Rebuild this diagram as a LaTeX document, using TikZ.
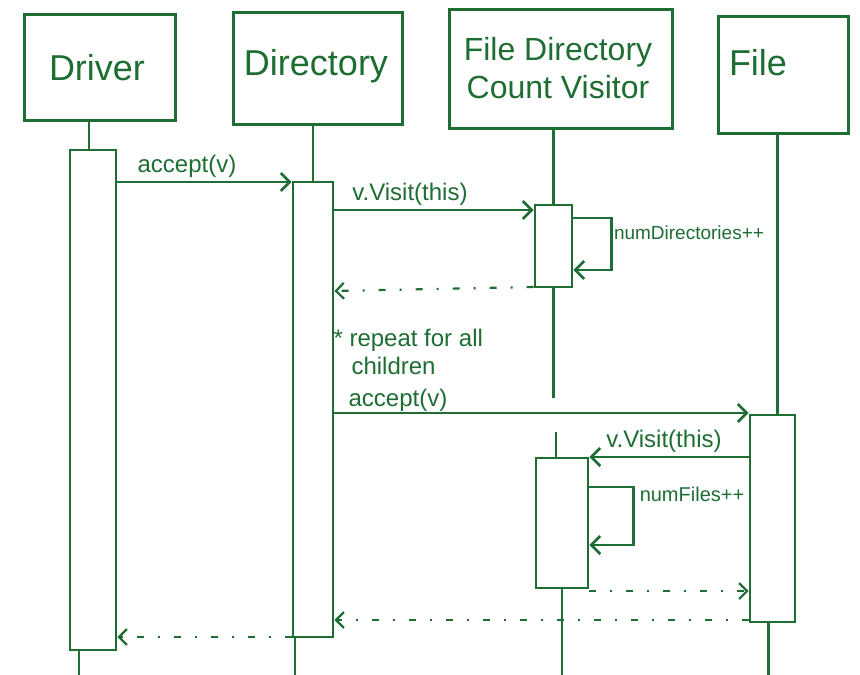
\documentclass[tikz,border=0pt]{standalone}
\usepackage{fontspec}
\setmainfont{Liberation Sans}
\usetikzlibrary{arrows.meta}
\definecolor{ink}{RGB}{30,110,52}
\begin{document}
\begin{tikzpicture}[x=1pt,y=-1pt,
  every node/.style={text=ink},
  head/.style={draw=ink, line width=3pt, inner sep=0pt},
  title/.style={font=\fontsize{36}{40}\selectfont},
  act/.style={draw=ink, line width=2.8pt, fill=white, inner sep=0pt},
  life/.style={draw=ink, line width=2.6pt},
  msg/.style={draw=ink, line width=2.4pt, -{Straight Barb[length=9pt,width=18pt,line width=2.6pt]}},
  ret/.style={draw=ink, line width=2.2pt, dash pattern=on 7pt off 14pt on 2pt off 14pt, -{Straight Barb[length=8pt,width=16pt,line width=2.2pt]}},
  lbl/.style={font=\fontsize{24}{28}\selectfont},
  slbl/.style={font=\fontsize{19}{22}\selectfont}]
\useasboundingbox (0,0) rectangle (860,675);
\fill[white] (0,0) rectangle (860,675);

% headers
\node[head, minimum width=151pt, minimum height=106pt] (drv) at (99.5,67) {};
\node[title] (drvt) at (97,68) {Driver};
\node[head, minimum width=169pt, minimum height=112pt] (dir) at (317.5,68) {};
\node[title] (dirt) at (316,66) {Directory};
\node[head, minimum width=223pt, minimum height=119pt] (vis) at (560.5,68.5) {};
\node[title, font=\fontsize{32}{36}\selectfont, align=center] (vist) at (558,68) {File Directory\\[2pt]Count Visitor};
\node[head, minimum width=130pt, minimum height=117pt] (file) at (783,74.5) {};
\node[title] (filet) at (758,63) {File};

% y levels
\coordinate (y182) at (0,182);
\coordinate (y210) at (0,210);
\coordinate (y218) at (0,218);
\coordinate (y270) at (0,270);
\coordinate (y287) at (0,287);
\coordinate (y291) at (0,291);
\coordinate (y398) at (0,398);
\coordinate (y413) at (0,413);
\coordinate (y432) at (0,432);
\coordinate (y457) at (0,457);
\coordinate (y487) at (0,487);
\coordinate (y545) at (0,545);
\coordinate (y591) at (0,591);
\coordinate (y620) at (0,620);
\coordinate (y637) at (0,637);
\coordinate (ybot) at (0,675);

% activations (nodes)
\node[act, minimum width=46pt, minimum height=500pt] (drvA) at (93,400) {};
\node[act, minimum width=40pt, minimum height=455pt] (dirA) at (313,409.5) {};
\node[act, minimum width=37pt, minimum height=82pt] (visA1) at (553.5,246) {};
\node[act, minimum width=52pt, minimum height=130pt] (visA2) at (562,523) {};
\node[act, minimum width=45pt, minimum height=207pt] (fileA) at (772.5,518.5) {};

% lifelines
\draw[life] ([xshift=-4pt]drvA.north |- drv.south) -- ([xshift=-4pt]drvA.north);
\draw[life] ([xshift=-14pt]drvA.south) -- ([xshift=-14pt]drvA.south |- ybot);
\draw[life] (dir.south -| dirA.north) -- (dirA.north);
\draw[life] ([xshift=-18pt]dirA.south) -- ([xshift=-18pt]dirA.south |- ybot);
\draw[life] (vis.south -| visA1.north) -- (visA1.north);
\draw[life] (visA1.south) -- (visA1.south |- y398);
\draw[life] ([xshift=-6pt]visA2.north |- y432) -- ([xshift=-6pt]visA2.north);
\draw[life] (visA2.south) -- (visA2.south |- ybot);
\draw[life] ([xshift=5pt]fileA.north |- file.south) -- ([xshift=5pt]fileA.north);
\draw[life] ([xshift=-4pt]fileA.south) -- ([xshift=-4pt]fileA.south |- ybot);

% messages
\draw[msg] (drvA.east |- y182) -- (dirA.west |- y182);
\node[lbl] (m1) at (187,166) {accept(v)};
\draw[msg] (dirA.east |- y210) -- (visA1.west |- y210);
\node[lbl] (m2) at (410,194) {v.Visit(this)};
\draw[msg] (visA1.east |- y218) -- ++(38,0) -- ++(0,52) -- (visA1.east |- y270);
\node[slbl] (m3) at (689,233) {numDirectories++};
\draw[ret] (visA1.west |- y287) -- (dirA.east |- y291);

\node[lbl, align=left, anchor=north west] (note) at (330,326) {* repeat for all\\\hspace*{18pt}children};

\draw[msg] (dirA.east |- y413) -- (fileA.west |- y413);
\node[lbl] (m5) at (398,400) {accept(v)};
\draw[msg] (fileA.west |- y457) -- (visA2.east |- y457);
\node[lbl] (m6) at (664,441) {v.Visit(this)};
\draw[msg] (visA2.east |- y487) -- ++(44,0) -- ++(0,58) -- (visA2.east |- y545);
\node[slbl, font=\fontsize{20}{24}\selectfont] (m7) at (692,494) {numFiles++};
\draw[ret] (visA2.east |- y591) -- (fileA.west |- y591);
\draw[ret] (fileA.west |- y620) -- (dirA.east |- y620);
\draw[ret] (dirA.west |- y637) -- (drvA.east |- y637);
\end{tikzpicture}
\end{document}
